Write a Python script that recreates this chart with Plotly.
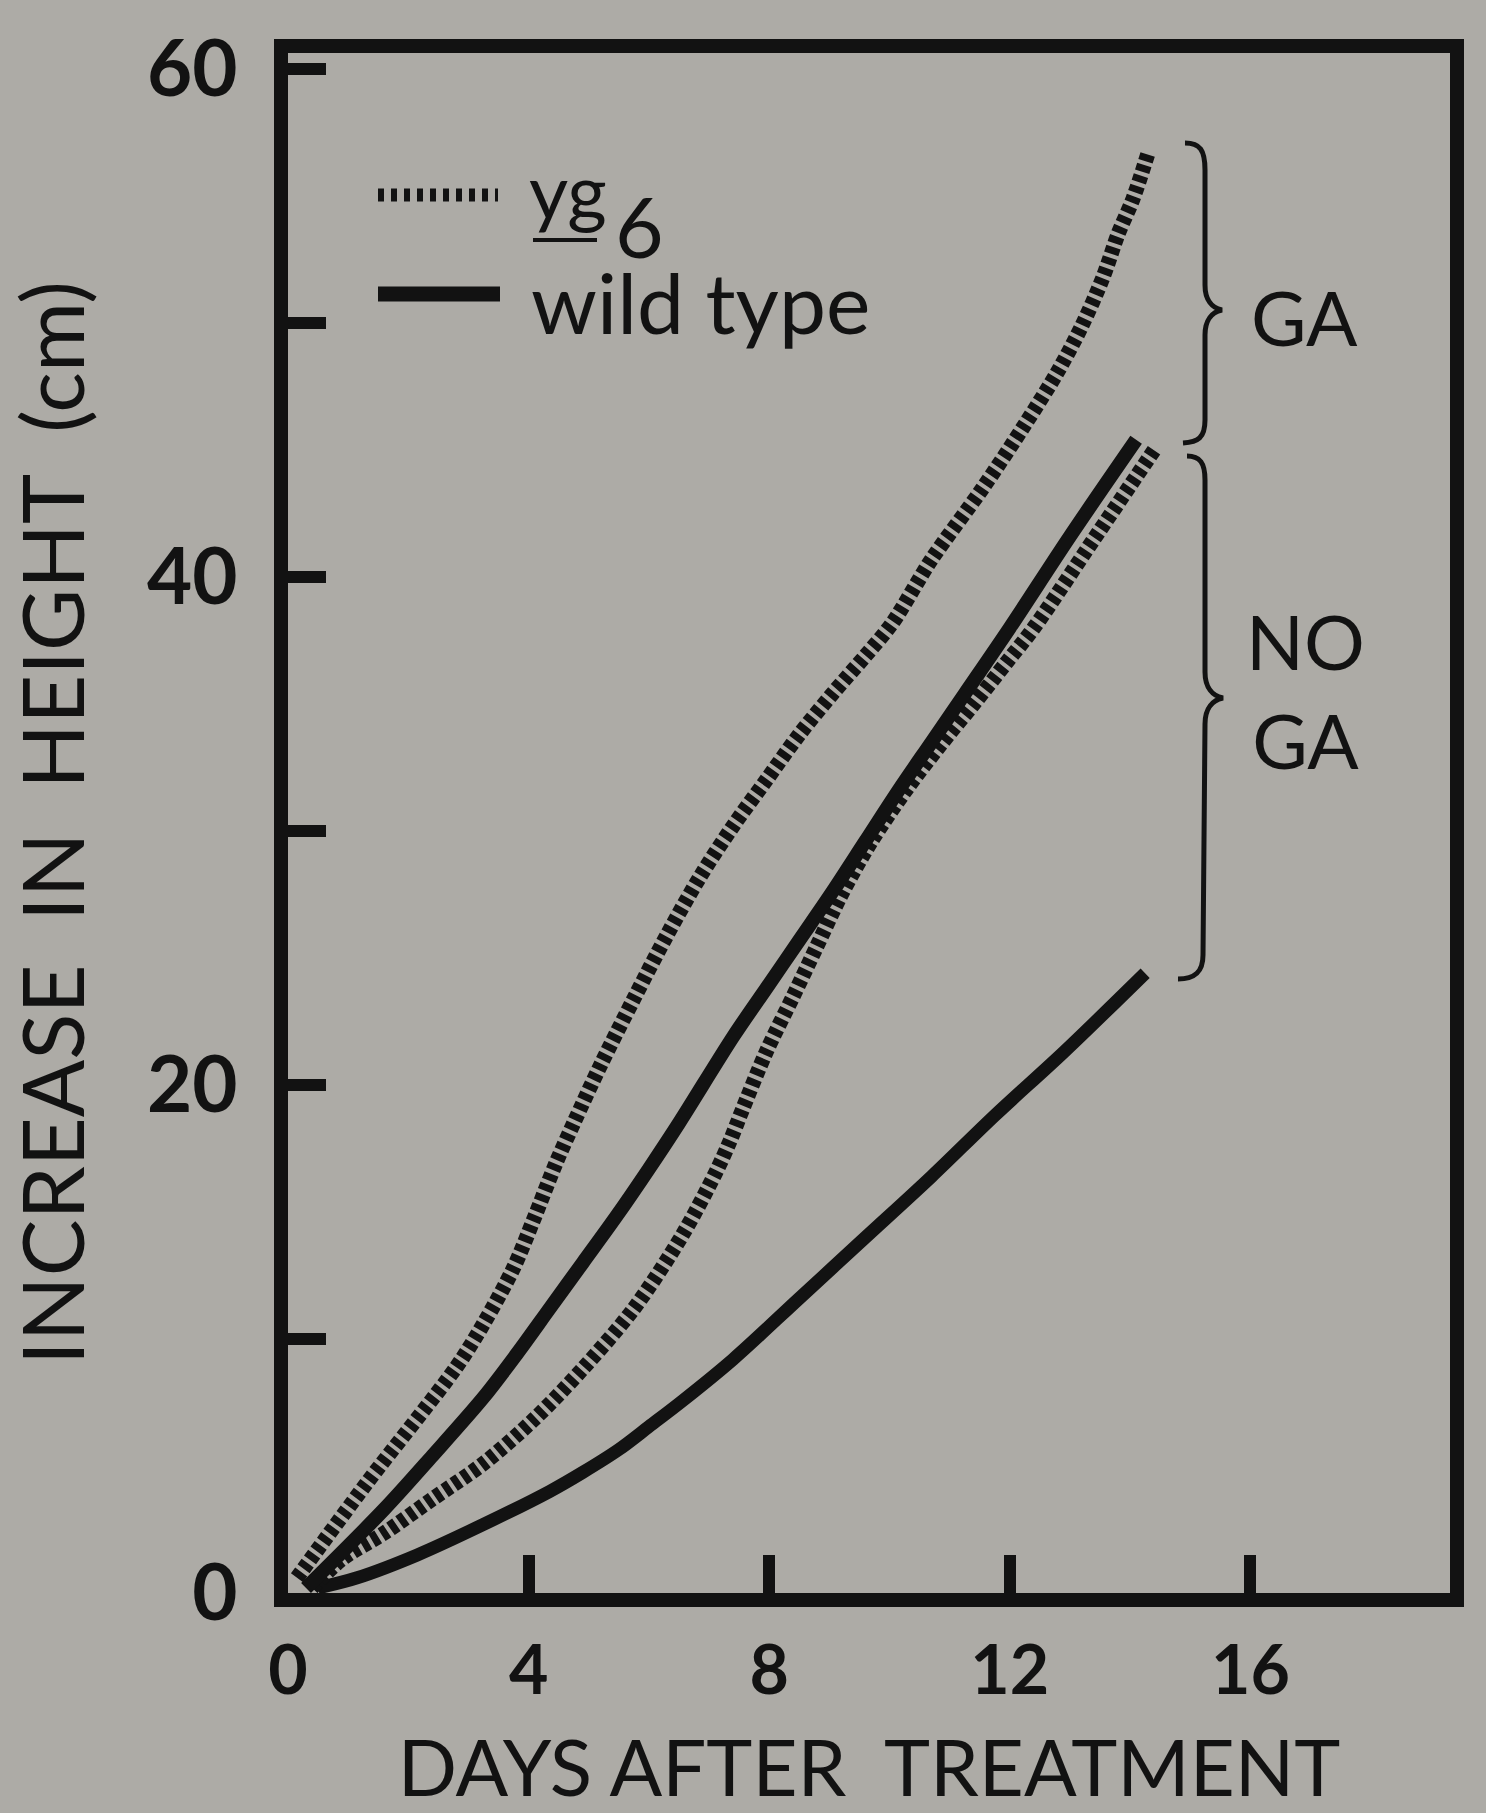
import plotly.graph_objects as go

# ---------------- data ----------------
yg6_ga_days = [0.15, 1.3, 2.8, 3.25, 3.75, 4.1, 4.45, 4.75, 5.2, 5.75, 6.3, 6.85, 7.4, 7.95, 8.5,
               9.05, 9.6, 10.05, 10.7, 11.55, 12.25, 12.8, 13.2, 13.55, 13.8, 14.05, 14.3]
yg6_ga_height = [0.6, 4.3, 8.9, 10.6, 12.8, 14.8, 16.9, 18.5, 20.8, 23.4, 25.9, 28.2, 30.2, 32.0,
                 33.8, 35.4, 36.9, 38.2, 40.7, 43.5, 46.0, 48.1, 49.9, 51.8, 53.5, 54.9, 56.7]

wt_ga_days = [0.3, 1.6, 2.4, 3.25, 3.8, 4.35, 4.9, 5.45, 6.0, 6.5, 7.4, 7.95, 8.5, 9.05,
              9.6, 10.15, 10.7, 11.25, 12.0, 13.0, 14.1]
wt_ga_height = [0.2, 3.3, 5.4, 7.7, 9.4, 11.2, 13.0, 14.8, 16.7, 18.5, 21.9, 23.8, 25.7, 27.6,
                29.6, 31.6, 33.5, 35.4, 38.0, 41.6, 45.4]

yg6_noga_days = [0.4, 0.9, 1.6, 2.4, 3.25, 4.1, 4.9, 5.75, 6.55, 7.1, 7.35, 7.55, 7.95, 8.4,
                 8.8, 9.2, 9.7, 10.3, 10.85, 11.4, 11.95, 12.4, 13.4, 14.4]
yg6_noga_height = [0.2, 1.34, 2.36, 3.7, 5.1, 6.86, 8.83, 11.2, 14.07, 16.5, 17.8, 19.0, 21.3, 23.5,
                   25.5, 27.5, 29.6, 31.7, 33.4, 35.0, 36.65, 38.0, 41.5, 45.0]

wt_noga_days = [0.5, 1.15, 2.15, 3.25, 4.35, 4.9, 5.5, 6.0, 6.55, 7.4, 8.5, 9.6, 10.7,
                11.75, 12.9, 14.25]
wt_noga_height = [0.2, 0.6, 1.5, 2.7, 4.0, 4.75, 5.65, 6.55, 7.55, 9.2, 11.6, 14.0, 16.4,
                  18.8, 21.3, 24.4]

x_tick_vals = [0, 4, 8, 12, 16]
x_tick_text = ["0", "4", "8", "12", "16"]
y_tick_vals = [0, 10, 20, 30, 40, 50, 60]
y_tick_text = ["0", "", "20", "", "40", "", "60"]

legend_mutant = ("yg", "6")
legend_wild = "wild type"
group_labels = ["GA", "NO<br>GA"]

# ---------------- styling ----------------
BG = "#adaba6"
INK = "#121212"
FONT = "Lato"
HATCH = "7px,4px"

L, T, W, H = 288, 53, 1162, 1540  # plot area in pixels


def px(x):
    return (x - L) / W


def py(y):
    return (T + H - y) / H


def path(cmds):
    out = []
    for c in cmds:
        op, pts = c[0], c[1:]
        out.append(op + " " + " ".join(f"{px(x):.5f},{py(y):.5f}" for x, y in pts))
    return " ".join(out)


fig = go.Figure()

line_shape = dict(shape="spline", smoothing=0.9)
fig.add_trace(go.Scatter(x=wt_noga_days, y=wt_noga_height, mode="lines", name="wild type, no GA",
                         line=dict(color=INK, width=13, **line_shape)))
fig.add_trace(go.Scatter(x=yg6_noga_days, y=yg6_noga_height, mode="lines", name="yg6, no GA",
                         line=dict(color=INK, width=15, dash=HATCH, **line_shape)))
fig.add_trace(go.Scatter(x=wt_ga_days, y=wt_ga_height, mode="lines", name="wild type, GA",
                         line=dict(color=INK, width=14, **line_shape)))
fig.add_trace(go.Scatter(x=yg6_ga_days, y=yg6_ga_height, mode="lines", name="yg6, GA",
                         line=dict(color=INK, width=15, dash=HATCH, **line_shape)))

axis_common = dict(showgrid=False, zeroline=False, showline=True, mirror=True,
                   linecolor=INK, linewidth=14, ticks="inside", ticklen=38, tickwidth=12,
                   tickcolor=INK)

fig.update_xaxes(range=[0, W / 60.15], tickvals=x_tick_vals, ticktext=x_tick_text,
                 tickfont=dict(family=FONT, size=68, color=INK, weight="bold"),
                 ticklabelstandoff=5,
                 title=dict(text="DAYS AFTER  TREATMENT", standoff=84,
                            font=dict(family=FONT, size=78, color=INK)),
                 **axis_common)
fig.update_yaxes(range=[0, H / 25.4], tickvals=y_tick_vals, ticktext=y_tick_text,
                 tickfont=dict(family=FONT, size=78, color=INK, weight="bold"),
                 ticklabelstandoff=21,
                 title=dict(text="INCREASE  IN  HEIGHT  (cm)", standoff=45,
                            font=dict(family=FONT, size=85, color=INK)),
                 **axis_common)

# legend drawn as decorations
shapes = [
    dict(type="line", xref="paper", yref="paper", x0=px(378), x1=px(498), y0=py(195), y1=py(195),
         line=dict(color=INK, width=13, dash="6px,7px")),
    dict(type="line", xref="paper", yref="paper", x0=px(378), x1=px(500), y0=py(294), y1=py(294),
         line=dict(color=INK, width=15)),
    # underline of the gene symbol
    dict(type="line", xref="paper", yref="paper", x0=px(533), x1=px(597), y0=py(240), y1=py(240),
         line=dict(color=INK, width=4)),
    # braces
    dict(type="path", xref="paper", yref="paper", line=dict(color=INK, width=5),
         path=path([("M", (1185, 143)), ("C", (1200, 143), (1205, 150), (1205, 170)),
                    ("L", (1205, 285)), ("C", (1205, 300), (1212, 308), (1222, 310)),
                    ("C", (1212, 312), (1205, 320), (1205, 335)), ("L", (1205, 420)),
                    ("C", (1205, 438), (1198, 442), (1183, 443))])),
    dict(type="path", xref="paper", yref="paper", line=dict(color=INK, width=5),
         path=path([("M", (1187, 456)), ("C", (1200, 456), (1205, 463), (1205, 480)),
                    ("L", (1205, 672)), ("C", (1205, 688), (1213, 696), (1223, 698)),
                    ("C", (1213, 700), (1205, 708), (1205, 724)), ("L", (1203, 955)),
                    ("C", (1203, 972), (1195, 979), (1178, 979))])),
]

annotations = [
    dict(text=legend_mutant[0], xref="paper", yref="paper", x=px(528), y=py(189),
         xanchor="left", yanchor="middle", showarrow=False, borderpad=0,
         font=dict(family=FONT, size=76, color=INK)),
    dict(text=legend_mutant[1], xref="paper", yref="paper", x=px(614), y=py(226),
         xanchor="left", yanchor="middle", showarrow=False, borderpad=0,
         font=dict(family=FONT, size=84, color=INK)),
    dict(text=legend_wild, xref="paper", yref="paper", x=px(530), y=py(302),
         xanchor="left", yanchor="middle", showarrow=False, borderpad=0,
         font=dict(family=FONT, size=84, color=INK)),
    dict(text=group_labels[0], xref="paper", yref="paper", x=px(1304), y=py(316),
         xanchor="center", yanchor="middle", showarrow=False,
         font=dict(family=FONT, size=76, color=INK)),
    dict(text=group_labels[1], xref="paper", yref="paper", x=px(1305), y=py(690),
         xanchor="center", yanchor="middle", showarrow=False, align="center",
         font=dict(family=FONT, size=76, color=INK)),
]

fig.update_layout(width=1486, height=1813,
                  margin=dict(l=L, r=1486 - L - W, t=T, b=1813 - T - H, autoexpand=False),
                  paper_bgcolor=BG, plot_bgcolor=BG, showlegend=False,
                  shapes=shapes, annotations=annotations,
                  font=dict(family=FONT, color=INK))

fig.write_html("out.html", config={"displayModeBar": False},
               post_script="document.body.style.margin='0';")
